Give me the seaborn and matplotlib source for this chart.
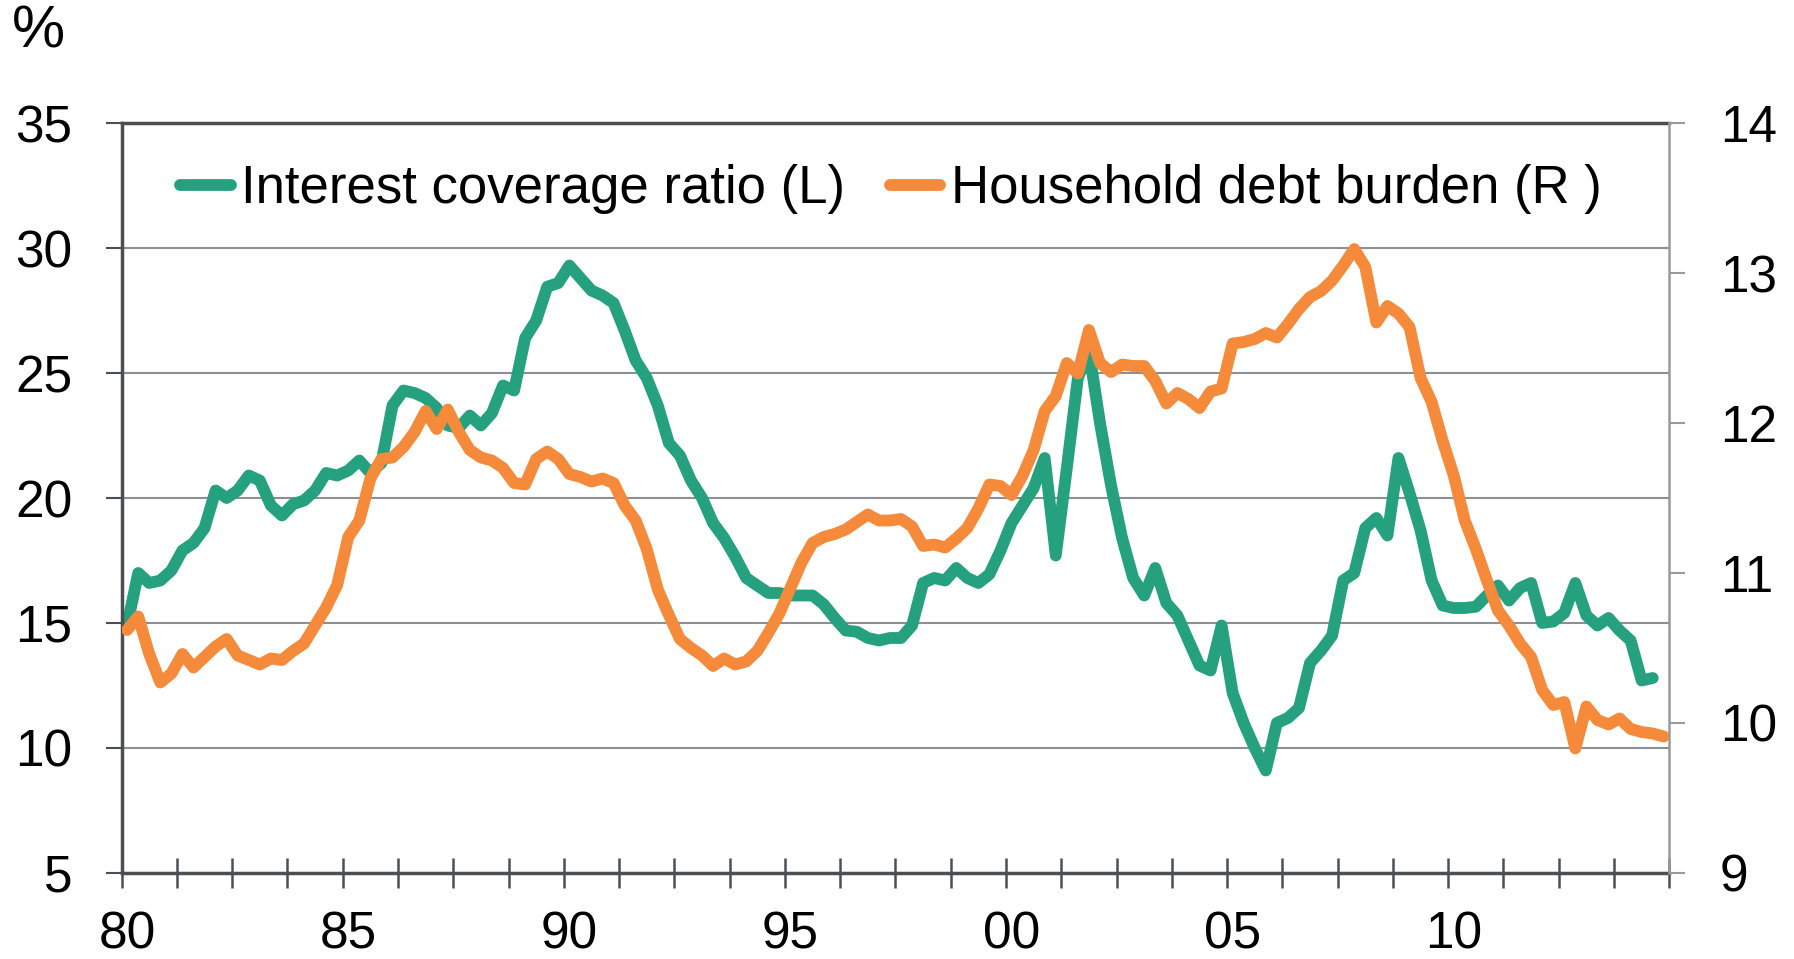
import numpy as np
import pandas as pd
import matplotlib
matplotlib.use("Agg")
import matplotlib.pyplot as plt
import seaborn as sns

# quarterly series, 1980Q1 onwards
interest_coverage = [
    14.9, 17.0, 16.6, 16.7, 17.1, 17.9, 18.2, 18.8, 20.3, 20.0,
    20.3, 20.9, 20.7, 19.7, 19.3, 19.75, 19.9, 20.3, 21.0, 20.9,
    21.1, 21.5, 21.0, 21.4, 23.7, 24.3, 24.2, 24.0, 23.6, 22.9,
    22.8, 23.3, 22.9, 23.4, 24.5, 24.3, 26.4, 27.1, 28.45, 28.6,
    29.3, 28.8, 28.3, 28.1, 27.8, 26.7, 25.5, 24.8, 23.7, 22.2,
    21.7, 20.7, 20.0, 19.0, 18.4, 17.65, 16.8, 16.5, 16.2, 16.2,
    16.1, 16.1, 16.1, 15.75, 15.2, 14.7, 14.65, 14.4, 14.3, 14.4,
    14.4, 14.9, 16.6, 16.8, 16.7, 17.2, 16.8, 16.6, 16.95, 17.9,
    19.0, 19.7, 20.4, 21.6, 17.7, 21.2, 24.8, 25.9, 23.0, 20.5,
    18.4, 16.8, 16.1, 17.2, 15.8, 15.3, 14.3, 13.3, 13.1, 14.9,
    12.2, 11.0, 10.0, 9.1, 11.0, 11.2, 11.6, 13.4, 13.9, 14.5,
    16.7, 17.0, 18.8, 19.2, 18.5, 21.6, 20.2, 18.7, 16.7, 15.7,
    15.6, 15.6, 15.65, 16.1, 16.5, 15.9, 16.4, 16.6, 15.0, 15.06,
    15.4, 16.6, 15.3, 14.9, 15.2, 14.7, 14.3, 12.7, 12.8,
]
household_debt = [
    10.62, 10.71, 10.46, 10.27, 10.33, 10.46, 10.37, 10.44, 10.51, 10.56,
    10.45, 10.42, 10.39, 10.43, 10.42, 10.48, 10.53, 10.65, 10.77, 10.92,
    11.24, 11.35, 11.63, 11.76, 11.77, 11.84, 11.94, 12.08, 11.96, 12.09,
    11.94, 11.82, 11.77, 11.75, 11.70, 11.60, 11.59, 11.76, 11.81, 11.76,
    11.66, 11.64, 11.61, 11.63, 11.60, 11.45, 11.35, 11.16, 10.89, 10.72,
    10.56, 10.50, 10.45, 10.38, 10.43, 10.39, 10.41, 10.48, 10.60, 10.73,
    10.90, 11.07, 11.20, 11.24, 11.26, 11.29, 11.34, 11.39, 11.35, 11.35,
    11.36, 11.31, 11.18, 11.19, 11.17, 11.23, 11.30, 11.43, 11.59, 11.58,
    11.52, 11.65, 11.82, 12.08, 12.18, 12.40, 12.33, 12.62, 12.40, 12.34,
    12.39, 12.38, 12.38, 12.28, 12.13, 12.20, 12.16, 12.10, 12.21, 12.23,
    12.53, 12.54, 12.56, 12.60, 12.57, 12.66, 12.76, 12.84, 12.88, 12.95,
    13.05, 13.16, 13.04, 12.67, 12.78, 12.73, 12.64, 12.30, 12.14, 11.88,
    11.65, 11.35, 11.16, 10.95, 10.75, 10.65, 10.53, 10.44, 10.22, 10.12,
    10.14, 9.83, 10.11, 10.02, 9.99, 10.03, 9.96, 9.94, 9.93, 9.91,
]
year_labels = ["80", "85", "90", "95", "00", "05", "10"]
left_ticks = [5, 10, 15, 20, 25, 30, 35]
right_ticks = [9, 10, 11, 12, 13, 14]

green = "#25A17F"
orange = "#F58A3A"
dark = "#4B4F54"
grid_gray = "#8C8F93"

df_l = pd.DataFrame({"year": 1980 + (np.arange(len(interest_coverage)) + 0.5) / 4,
                     "value": interest_coverage})
df_r = pd.DataFrame({"year": 1980 + (np.arange(len(household_debt)) + 0.5) / 4,
                     "value": household_debt})

sns.set_theme(style="white")
plt.rcParams["font.family"] = ["Liberation Sans", "DejaVu Sans"]
plt.rcParams["text.color"] = "black"

fig = plt.figure(figsize=(17.94, 9.59), dpi=100)
ax = fig.add_axes([0.0678, 0.0897, 0.8627, 0.782])
ax2 = ax.twinx()

sns.lineplot(data=df_l, x="year", y="value", ax=ax, color=green, linewidth=8.5,
             solid_capstyle="round", label="Interest coverage ratio (L)", legend=False)
sns.lineplot(data=df_r, x="year", y="value", ax=ax2, color=orange, linewidth=8.5,
             solid_capstyle="round", label="Household debt burden (R )", legend=False)

ax.set_xlim(1980, 2015)
ax.set_ylim(5, 35)
ax2.set_ylim(9, 14)
ax.set_xlabel("")
ax.set_ylabel("")
ax2.set_ylabel("")

# x axis: labels at category centres, tick marks every 5 quarters
ax.set_xticks([1980.125 + 5 * j for j in range(len(year_labels))])
ax.set_xticklabels(year_labels)
ax.set_xticks([1980 + 1.25 * j for j in range(29)], minor=True)
ax.tick_params(axis="x", which="major", length=0, pad=27, labelsize=37, labelcolor="black")
ax.tick_params(axis="x", which="minor", bottom=True, direction="inout", length=22,
               width=1.8, color=dark)

ax.set_yticks(left_ticks)
ax.tick_params(axis="y", which="major", left=True, direction="out", length=11.5, width=1.5,
               color=dark, pad=24, labelsize=37, labelcolor="black")
ax2.set_yticks(right_ticks)
ax2.tick_params(axis="y", which="major", right=True, direction="out", length=11.5, width=1.5,
                color="#9A9A9A", pad=25, labelsize=37, labelcolor="black")

ax.yaxis.grid(True, color=grid_gray, linewidth=1.5)
ax.xaxis.grid(False)
ax2.grid(False)

for name in ["left", "bottom", "top"]:
    ax.spines[name].set_color(dark)
    ax.spines[name].set_linewidth(2.5)
ax.spines["right"].set_visible(False)
for name in ["left", "bottom", "top"]:
    ax2.spines[name].set_visible(False)
ax2.spines["right"].set_color("#9A9A9A")
ax2.spines["right"].set_linewidth(1.8)

h1, l1 = ax.get_legend_handles_labels()
h2, l2 = ax2.get_legend_handles_labels()
leg = ax2.legend(h1 + h2, l1 + l2, ncol=2, frameon=False, fontsize=38,
                 loc="center left", bbox_to_anchor=(0.038, 0.912), borderpad=0,
                 borderaxespad=0, handlelength=0.95, handletextpad=0.2, columnspacing=0.85)
for t in leg.get_texts():
    t.set_color("black")

fig.text(12 / 1794, 1 - 4 / 959, "%", ha="left", va="top", fontsize=43, color="black")

fig.savefig("out.png", dpi=100)
